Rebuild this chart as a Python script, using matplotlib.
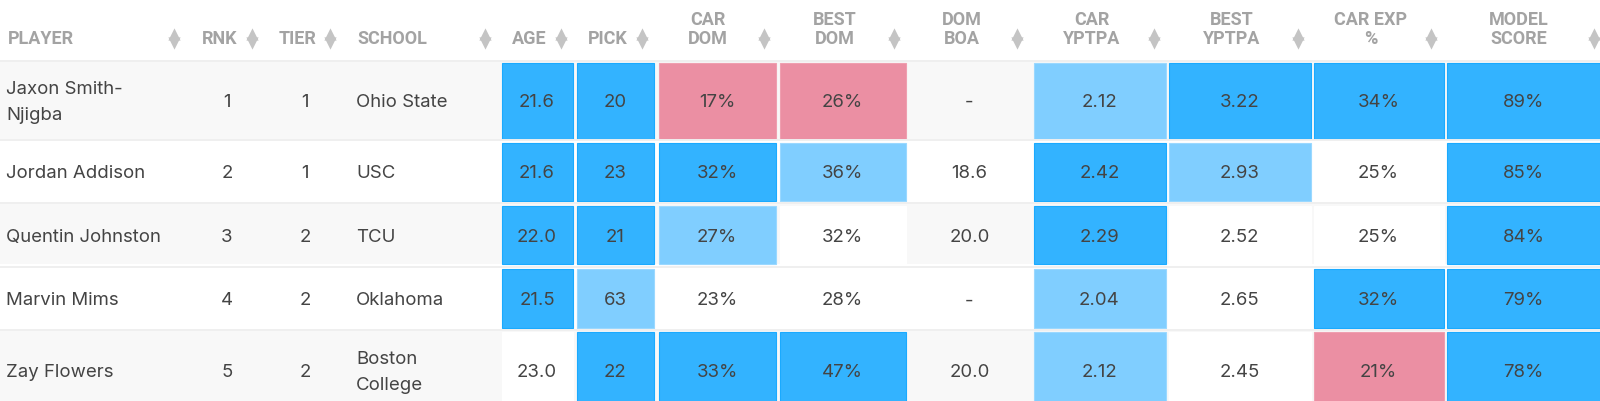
#!/usr/bin/env python3
"""Draft prospect table with heat-shaded stat cells."""

import matplotlib

matplotlib.use("Agg")
import matplotlib.pyplot as plt  # noqa: E402
from matplotlib.patches import Rectangle  # noqa: E402

COLUMNS = ["PLAYER", "RNK", "TIER", "SCHOOL", "AGE", "PICK", "CAR\nDOM", "BEST\nDOM",
           "DOM\nBOA", "CAR\nYPTPA", "BEST\nYPTPA", "CAR EXP\n%", "MODEL\nSCORE"]
PLAYERS = ["Jaxon Smith-\nNjigba", "Jordan Addison", "Quentin Johnston", "Marvin Mims", "Zay Flowers"]
RANKS = ["1", "2", "3", "4", "5"]
TIERS = ["1", "1", "2", "2", "2"]
SCHOOLS = ["Ohio State", "USC", "TCU", "Oklahoma", "Boston\nCollege"]
AGES = ["21.6", "21.6", "22.0", "21.5", "23.0"]
PICKS = ["20", "23", "21", "63", "22"]
CAR_DOM = ["17%", "32%", "27%", "23%", "33%"]
BEST_DOM = ["26%", "36%", "32%", "28%", "47%"]
DOM_BOA = ["-", "18.6", "20.0", "-", "20.0"]
CAR_YPTPA = ["2.12", "2.42", "2.29", "2.04", "2.12"]
BEST_YPTPA = ["3.22", "2.93", "2.52", "2.65", "2.45"]
CAR_EXP = ["34%", "25%", "25%", "32%", "21%"]
MODEL_SCORE = ["89%", "85%", "84%", "79%", "78%"]

# shade per stat cell: w white, l light blue, b strong blue, p pink, - row background
SHADE_AGE = "bbbbw"
SHADE_PICK = "bbblb"
SHADE_CAR_DOM = "pblwb"
SHADE_BEST_DOM = "plwwb"
SHADE_DOM_BOA = "-----"
SHADE_CAR_YPTPA = "lbbll"
SHADE_BEST_YPTPA = "blwww"
SHADE_CAR_EXP = "bwwbp"
SHADE_MODEL = "bbbbb"

SHADE_COLORS = {"w": "#ffffff", "l": "#80ceff", "b": "#33b3ff", "p": "#eb8fa3"}
SHADE_EDGES = {"w": "#ffffff", "l": "#9ad8ff", "b": "#1aaaff", "p": "#ef9fb0"}
TEXT_COLOR = "#444444"
HEADER_COLOR = "#a3a3a3"
ARROW_COLOR = "#c4c4c4"
STRIPE_COLOR = "#f8f8f8"
LINE_COLOR = "#efefef"

# cell edges in pixels
COL_LEFT = [501, 576, 658, 779, 907, 1033, 1168, 1313, 1446]
COL_RIGHT = [573, 654, 776, 906, 1032, 1166, 1311, 1444, 1601]
ROW_TOP = [63, 143, 206, 269, 332]
ROW_BOTTOM = [140, 202, 265, 329, 403]
RULE_Y = [62, 141, 203.5, 267.5, 331]
TEXT_Y = [102.5, 173.5, 237.5, 301, 372.5]

# header placement in pixels
HEADER_X = [8, 202, 279, 357, 512, 588, 708, 835, 962, 1092, 1232, 1371, 1519]
HEADER_HA = ["left"] * 6 + ["center"] * 7
ARROW_X = [174, 252, 330, 485, 561, 642, 764, 894, 1017, 1154, 1298, 1431, 1594]
BODY_FONT = ["Inter", "DejaVu Sans"]
HEADER_FONT = ["Roboto", "DejaVu Sans"]
BODY_SIZE = 13.4
HEADER_SIZE = 13


def main():
    fig = plt.figure(figsize=(16, 4.02), dpi=100)
    ax = fig.add_axes([0, 0, 1, 1])
    ax.set_xlim(0, 1600)
    ax.set_ylim(402, 0)
    ax.axis("off")

    # stripes and row rules
    for i, rule in enumerate(RULE_Y):
        if i % 2 == 0:
            ax.add_patch(Rectangle((0, rule), 1600, ROW_BOTTOM[i] - rule, color=STRIPE_COLOR, lw=0))
        ax.plot([0, 1600], [rule, rule], color=LINE_COLOR, lw=1.4, solid_capstyle="butt")

    # headers, the last line of each sits on the arrows' centre
    for label, x, ha, arrow in zip(COLUMNS, HEADER_X, HEADER_HA, ARROW_X):
        ax.text(x, 48.5, label, ha=ha, va="bottom", multialignment="center", fontsize=HEADER_SIZE,
                fontweight="bold", color=HEADER_COLOR, family=HEADER_FONT, linespacing=1.1)
        ax.scatter([arrow], [34.5], marker="^", s=78, color=ARROW_COLOR, lw=0)
        ax.scatter([arrow], [43.5], marker="v", s=78, color=ARROW_COLOR, lw=0)

    # left text columns
    for i, y in enumerate(TEXT_Y):
        ax.text(6, y, PLAYERS[i], ha="left", va="center", fontsize=BODY_SIZE, color=TEXT_COLOR,
                family=BODY_FONT, linespacing=1.7)
        ax.text(227, y, RANKS[i], ha="center", va="center", fontsize=BODY_SIZE, color=TEXT_COLOR, family=BODY_FONT)
        ax.text(305, y, TIERS[i], ha="center", va="center", fontsize=BODY_SIZE, color=TEXT_COLOR, family=BODY_FONT)
        ax.text(356, y, SCHOOLS[i], ha="left", va="center", fontsize=BODY_SIZE, color=TEXT_COLOR,
                family=BODY_FONT, linespacing=1.7)

    # stat columns
    stats = [AGES, PICKS, CAR_DOM, BEST_DOM, DOM_BOA, CAR_YPTPA, BEST_YPTPA, CAR_EXP, MODEL_SCORE]
    shades = [SHADE_AGE, SHADE_PICK, SHADE_CAR_DOM, SHADE_BEST_DOM, SHADE_DOM_BOA,
              SHADE_CAR_YPTPA, SHADE_BEST_YPTPA, SHADE_CAR_EXP, SHADE_MODEL]
    for col, (values, shade) in enumerate(zip(stats, shades)):
        left, right = COL_LEFT[col], COL_RIGHT[col]
        for i, y in enumerate(TEXT_Y):
            if shade[i] in SHADE_COLORS:
                # inset by half the edge so the white gutters keep their width
                ax.add_patch(Rectangle((left + 0.5, ROW_TOP[i] + 0.5), right - left - 1, ROW_BOTTOM[i] - ROW_TOP[i] - 1,
                                       facecolor=SHADE_COLORS[shade[i]], edgecolor=SHADE_EDGES[shade[i]], lw=0.8))
            ax.text((left + right) / 2, y, values[i], ha="center", va="center", fontsize=BODY_SIZE,
                    color=TEXT_COLOR, family=BODY_FONT)

    fig.savefig("out.png", dpi=100)
    plt.close(fig)


if __name__ == "__main__":
    main()
